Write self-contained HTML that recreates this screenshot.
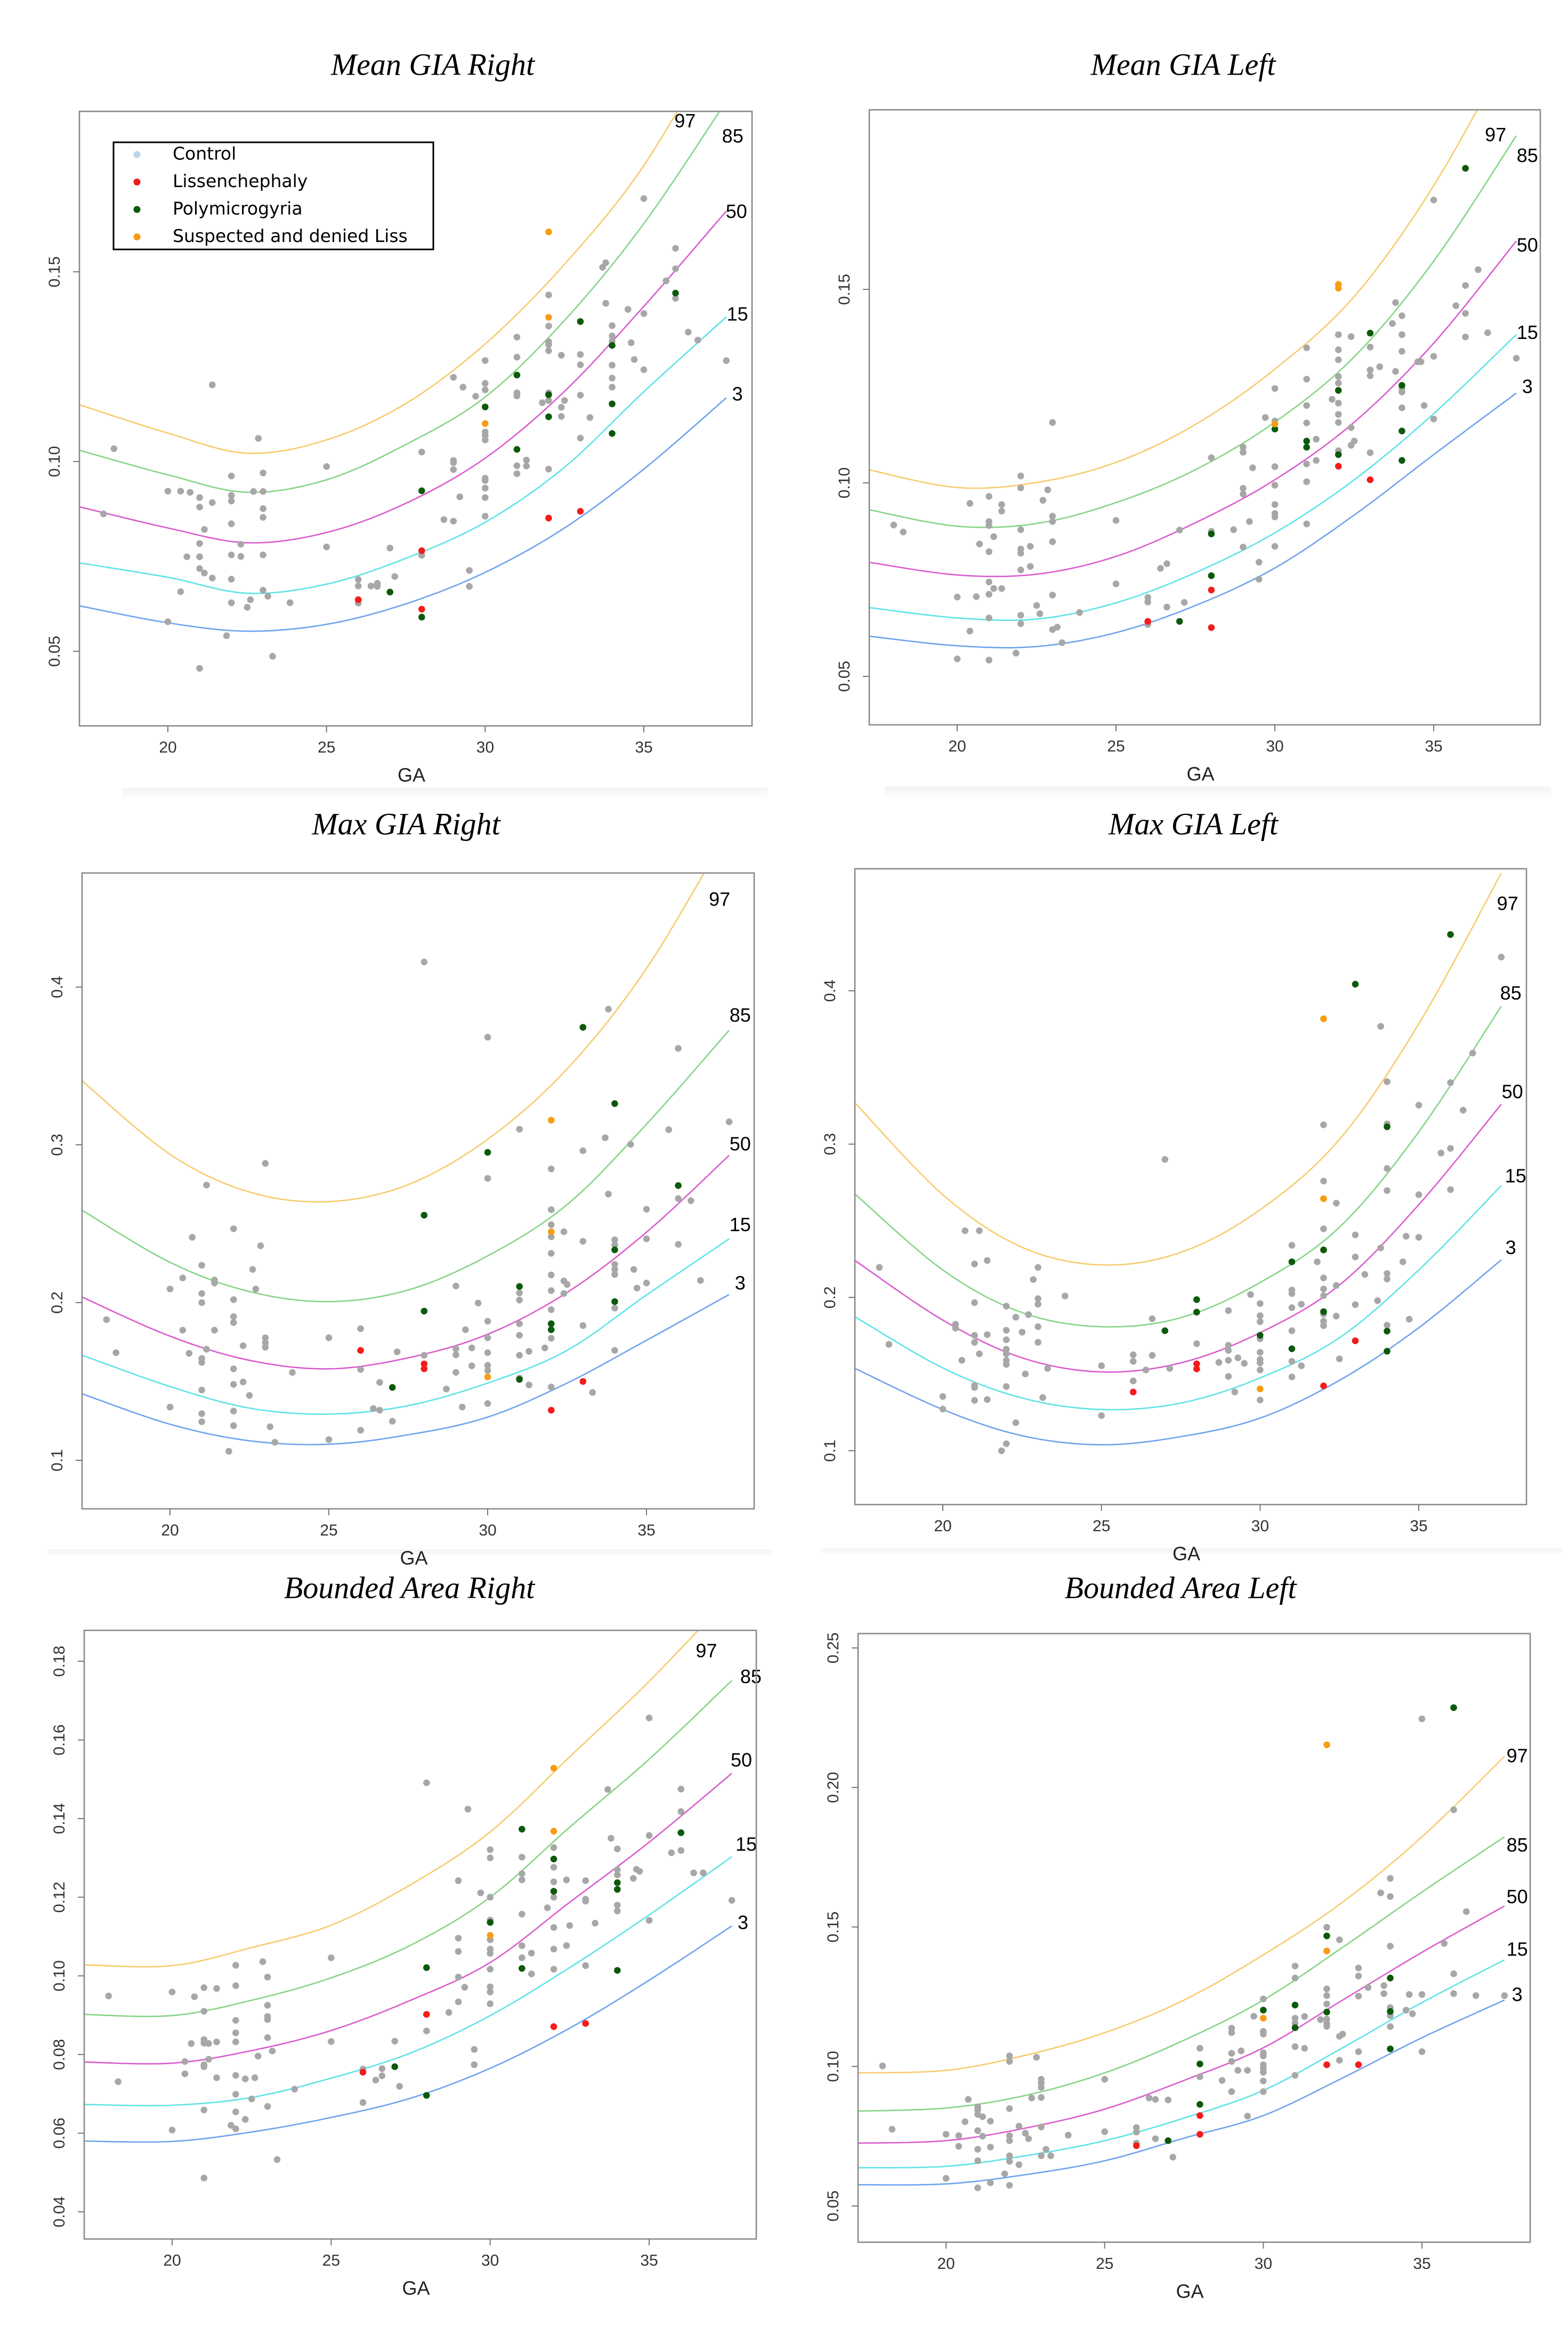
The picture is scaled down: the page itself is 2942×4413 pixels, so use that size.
<!DOCTYPE html>
<html><head><meta charset="utf-8"><title>GIA percentile charts</title>
<style>
html,body{margin:0;padding:0;background:#fff;}
svg{display:block;}
text{font-family:"Liberation Sans",sans-serif;}
.title{font-family:"Liberation Serif",serif;font-style:italic;font-size:58px;fill:#000;}
.tick{font-size:30px;fill:#333;}
.axlab{font-size:36px;fill:#222;}
.plab{font-size:36px;fill:#000;}
.leg{font-family:"DejaVu Sans","Liberation Sans",sans-serif;font-size:33px;fill:#000;}
</style></head>
<body>
<svg id="chart" xmlns="http://www.w3.org/2000/svg" width="2942" height="4413" viewBox="0 0 2942 4413">
<defs>
<linearGradient id="fade" x1="0" y1="0" x2="0" y2="1"><stop offset="0" stop-color="#f3f3f3"/><stop offset="1" stop-color="#ffffff"/></linearGradient>
</defs>
<rect x="0" y="0" width="2942" height="4413" fill="#fff"/>
<rect x="230" y="1478" width="1210" height="22" fill="url(#fade)"/>
<rect x="1660" y="1476" width="1250" height="22" fill="url(#fade)"/>
<rect x="90" y="2907" width="1360" height="14" fill="url(#fade)"/>
<rect x="1540" y="2905" width="1390" height="14" fill="url(#fade)"/>
<g id="legend">
</g>
</svg>
<script>
// ---------- shared ----------
const curveGA = [17.2, 20, 22.5, 25, 27.5, 30, 32.5, 35, 37.6];
const percentiles = ["3", "15", "50", "85", "97"];

// ---------- Panel 1: Mean GIA Right ----------
const p1Curve3  = [0.062, 0.0575, 0.0553, 0.0571, 0.0625, 0.0708, 0.0825, 0.098, 0.1168];
const p1Curve15 = [0.0733, 0.0695, 0.0653, 0.0677, 0.0745, 0.084, 0.0985, 0.1184, 0.1381];
const p1Curve50 = [0.0881, 0.0825, 0.0786, 0.0813, 0.089, 0.1009, 0.1185, 0.1409, 0.166];
const p1Curve85 = [0.103, 0.0965, 0.0919, 0.0952, 0.1045, 0.117, 0.1372, 0.1627, 0.195];
const p1Curve97 = [0.115, 0.1075, 0.1022, 0.1057, 0.1153, 0.131, 0.152, 0.178, 0.215];
const p1LabelPos = [[37.95,0.1174],[37.95,0.1385],[37.92,0.1655],[37.8,0.1854],[36.3,0.1894]];
const p1Gray = [[17.97,0.0862],[18.3,0.1034],[20,0.0922],[20,0.0578],[20.4,0.0922],[20.4,0.0657],[20.7,0.0919],[20.6,0.0749],
[21,0.0905],[21,0.088],[21,0.0784],[21,0.0749],[21,0.0718],[21,0.0455],[21.15,0.0821],[21.15,0.0706],[21.4,0.1202],[21.4,0.0892],[21.4,0.0693],
[22,0.0962],[22,0.0911],[22,0.0896],[22,0.0836],[22,0.0754],[22,0.069],[22,0.0628],[21.85,0.0541],[22.3,0.0782],[22.3,0.075],[22.5,0.0616],[22.6,0.0636],[22.7,0.0921],[22.85,0.1061],
[23,0.097],[23,0.0921],[23,0.0876],[23,0.0853],[23,0.0754],[23,0.0661],[23.15,0.0645],[23.3,0.0487],[23.85,0.0628],[25,0.0987],[25,0.0775],
[26,0.0689],[26,0.0672],[26,0.0627],[26.4,0.0672],[26.6,0.0679],[26.6,0.0671],[27,0.0772],[27.15,0.0697],[28,0.1025],[28,0.0753],[28.7,0.0847],
[29,0.1222],[29,0.1003],[29,0.0997],[29,0.0979],[29,0.0843],[29.2,0.0907],[29.3,0.1196],[29.7,0.1172],[29.5,0.0713],[29.5,0.0671],
[30,0.1266],[30,0.1206],[30,0.1189],[30,0.1078],[30,0.1069],[30,0.1057],[30,0.0956],[30,0.095],[30,0.093],[30,0.0905],[30,0.0856],
[31,0.1328],[31,0.1275],[31,0.1181],[31,0.1173],[31,0.0989],[31,0.0968],[31.3,0.1004],[31.3,0.0988],[31.8,0.1155],
[32,0.1439],[32,0.1357],[32,0.1316],[32,0.1308],[32,0.1292],[32,0.1181],[32,0.1161],[32,0.098],[32.4,0.128],[32.4,0.1143],[32.4,0.1119],[32.5,0.1161],
[33,0.1282],[33,0.1255],[33,0.1175],[33,0.1062],[33.3,0.1116],[33.7,0.1512],[33.8,0.1524],[33.8,0.1417],
[34,0.1358],[34,0.1331],[34,0.1317],[34,0.1254],[34,0.122],[34,0.1196],[34.5,0.1401],[34.6,0.1313],[34.7,0.1269],
[35,0.1693],[35,0.139],[35,0.1242],[35.7,0.1476],[36,0.1562],[36,0.1508],[36,0.143],[36.4,0.1341],[36.7,0.132],[37.6,0.1266]];
const p1Red = [[26,0.0636],[28,0.0765],[28,0.0611],[32,0.0851],[33,0.0869]];
const p1Green = [[28,0.0923],[27,0.0656],[28,0.059],[30,0.1144],[31,0.1228],[31,0.1032],[32,0.1176],[32,0.1118],[33,0.1369],[34,0.1306],[34,0.1152],[34,0.1074],[36,0.1444]];
const p1Orange = [[32,0.1605],[32,0.138],[30,0.11]];
const p1YTicks = [0.05, 0.10, 0.15];
const p1YLabels = ["0.05", "0.10", "0.15"];

// ---------- Panel 2: Mean GIA Left ----------
const p2Curve3  = [0.0604, 0.0579, 0.0577, 0.0613, 0.0683, 0.078, 0.0917, 0.1073, 0.1232];
const p2Curve15 = [0.0678, 0.0651, 0.0648, 0.069, 0.0768, 0.0871, 0.1008, 0.1179, 0.1383];
const p2Curve50 = [0.0795, 0.0762, 0.0764, 0.081, 0.0897, 0.1008, 0.1157, 0.1361, 0.1625];
const p2Curve85 = [0.0931, 0.0888, 0.0895, 0.0949, 0.1034, 0.1157, 0.1326, 0.1573, 0.1897];
const p2Curve97 = [0.1034, 0.0988, 0.1001, 0.1053, 0.1151, 0.1294, 0.1482, 0.1768, 0.215];
const p2LabelPos = [[37.95,0.1245],[37.95,0.1385],[37.95,0.1611],[37.95,0.1842],[36.95,0.1896]];
const p2Gray = [[18,0.0891],[18.3,0.0873],[20,0.0705],[20,0.0545],[20.4,0.0947],[20.4,0.0617],[20.6,0.0706],[20.7,0.0842],
[21,0.0965],[21,0.09],[21,0.089],[21,0.0822],[21,0.0744],[21,0.0712],[21,0.0651],[21,0.0542],[21.15,0.0861],[21.15,0.0727],[21.4,0.0944],[21.4,0.0927],[21.4,0.0727],
[22,0.1018],[22,0.0987],[22,0.0879],[22,0.0829],[22,0.0818],[22,0.0775],[22,0.0658],[22,0.0636],[21.85,0.056],[22.3,0.0836],[22.3,0.0784],[22.5,0.0683],[22.6,0.0662],[22.7,0.0955],[22.85,0.0982],
[23,0.1156],[23,0.0914],[23,0.09],[23,0.0848],[23,0.071],[23,0.0621],[23.15,0.0627],[23.3,0.0587],[23.85,0.0665],[25,0.0903],[25,0.0739],
[26,0.0704],[26,0.0692],[26,0.0634],[26.4,0.0779],[26.6,0.0791],[26.6,0.0679],[27,0.0878],[27.15,0.0691],[28,0.1065],[28,0.0875],[28.7,0.0879],
[29,0.1092],[29,0.1079],[29,0.0986],[29,0.0971],[29,0.0834],[29.2,0.09],[29.3,0.1039],[29.5,0.0795],[29.5,0.0751],[29.7,0.1169],
[30,0.1244],[30,0.116],[30,0.1042],[30,0.0994],[30,0.0944],[30,0.0921],[30,0.0912],[30,0.0836],
[31,0.1349],[31,0.1268],[31,0.12],[31,0.1155],[31,0.1049],[31,0.1003],[31,0.0894],[31.3,0.1113],[31.3,0.1058],[31.8,0.1216],
[32,0.1383],[32,0.1344],[32,0.1318],[32,0.1275],[32,0.1258],[32,0.1206],[32,0.1177],[32,0.1156],[32,0.1083],[32.4,0.1378],[32.4,0.1143],[32.4,0.1097],[32.5,0.1108],
[33,0.1351],[33,0.1292],[33,0.1277],[33,0.1078],[33.3,0.13],[33.7,0.1412],[33.8,0.1466],[33.8,0.1288],
[34,0.1432],[34,0.1383],[34,0.134],[34,0.1243],[34,0.1235],[34,0.1194],[34.5,0.1313],[34.6,0.1313],[34.7,0.12],
[35,0.1731],[35,0.1327],[35,0.1165],[35.7,0.1458],[36,0.151],[36,0.1438],[36,0.1377],[36.4,0.1551],[36.7,0.1388],[37.6,0.1322]];
const p2Red = [[26,0.0642],[28,0.0723],[28,0.0626],[32,0.1043],[33,0.1008]];
const p2Green = [[27,0.0642],[28,0.0868],[28,0.076],[30,0.1139],[31,0.1108],[31,0.1092],[32,0.1239],[32,0.1073],[33,0.1387],[34,0.1252],[34,0.1134],[34,0.1058],[36,0.1813]];
const p2Orange = [[32,0.1513],[32,0.1503],[30,0.1152]];
const p2YTicks = [0.05, 0.10, 0.15];
const p2YLabels = ["0.05", "0.10", "0.15"];

// ---------- Panel 3: Max GIA Right ----------
const p3Curve3  = [0.1424, 0.1229, 0.1124, 0.1102, 0.1162, 0.1274, 0.149, 0.1761, 0.2051];
const p3Curve15 = [0.1669, 0.1468, 0.1331, 0.1293, 0.1347, 0.149, 0.1697, 0.2048, 0.2404];
const p3Curve50 = [0.2038, 0.1787, 0.1634, 0.158, 0.165, 0.1799, 0.2064, 0.2446, 0.2933];
const p3Curve85 = [0.2589, 0.2255, 0.207, 0.2006, 0.208, 0.2296, 0.2621, 0.3131, 0.3726];
const p3Curve97 = [0.3411, 0.294, 0.2701, 0.264, 0.2748, 0.3035, 0.3481, 0.4118, 0.50];
const p3LabelPos = [[37.95,0.2115],[37.95,0.2485],[37.95,0.2997],[37.95,0.3813],[37.3,0.4548]];
const p3Gray = [[18,0.1892],[18.3,0.1682],[20,0.2086],[20,0.1338],[20.4,0.2156],[20.4,0.1825],[20.6,0.1678],[20.7,0.2414],
[21,0.2236],[21,0.2057],[21,0.2],[21,0.1646],[21,0.1621],[21,0.1446],[21,0.1296],[21,0.1245],[21.15,0.2745],[21.15,0.1704],[21.4,0.2143],[21.4,0.2124],[21.4,0.1825],
[22,0.2468],[22,0.2019],[22,0.1911],[22,0.1873],[22,0.158],[22,0.1481],[22,0.1312],[22,0.122],[21.85,0.1057],[22.3,0.1726],[22.3,0.1497],[22.5,0.1411],[22.6,0.221],[22.7,0.2086],[22.85,0.236],
[23,0.2882],[23,0.1777],[23,0.1745],[23,0.1717],[23.15,0.1213],[23.3,0.1115],[23.85,0.1557],[25,0.1777],[25,0.1131],
[26,0.1834],[26,0.1576],[26,0.1191],[26.4,0.1328],[26.6,0.1494],[26.6,0.1318],[27,0.1248],[27.15,0.1688],[28,0.4159],[28,0.1666],[28.7,0.1452],
[29,0.2105],[29,0.1707],[29,0.1669],[29,0.1557],[29.2,0.1338],[29.3,0.1828],[29.5,0.1713],[29.5,0.1599],[29.7,0.1997],
[30,0.3682],[30,0.2787],[30,0.1882],[30,0.1777],[30,0.1682],[30,0.1602],[30,0.157],[30,0.136],
[31,0.3099],[31,0.2061],[31,0.2016],[31,0.1866],[31,0.1793],[31,0.1666],[31,0.1522],[31.3,0.1691],[31.3,0.1478],[31.8,0.1713],
[32,0.2847],[32,0.2589],[32,0.2494],[32,0.2417],[32,0.2312],[32,0.2175],[32,0.2076],[32,0.1955],[32,0.1774],[32,0.1465],[32.4,0.2449],[32.4,0.2137],[32.4,0.2057],[32.5,0.2115],
[33,0.2962],[33,0.2389],[33,0.1854],[33.3,0.143],[33.7,0.3045],[33.8,0.386],[33.8,0.2688],
[34,0.2398],[34,0.2366],[34,0.2242],[34,0.221],[34,0.2178],[34,0.1965],[34,0.1697],[34.5,0.3003],[34.6,0.221],[34.7,0.2092],
[35,0.2592],[35,0.2404],[35,0.2124],[35.7,0.3096],[36,0.3611],[36,0.2659],[36,0.2369],[36.4,0.2646],[36.7,0.214],[37.6,0.3146]];
const p3Red = [[26,0.1697],[28,0.1611],[28,0.158],[32,0.1318],[33,0.15]];
const p3Green = [[28,0.2554],[28,0.1946],[27,0.1462],[30,0.2952],[31,0.2102],[31,0.1513],[32,0.1866],[32,0.1828],[33,0.3745],[34,0.3261],[34,0.2334],[34,0.2006],[36,0.2742]];
const p3Orange = [[32,0.3156],[32,0.2449],[30,0.1529]];
const p3YTicks = [0.1, 0.2, 0.3, 0.4];
const p3YLabels = ["0.1", "0.2", "0.3", "0.4"];

// ---------- Panel 4: Max GIA Left ----------
const p4Curve3  = [0.154, 0.1269, 0.1098, 0.1039, 0.1092, 0.1213, 0.1459, 0.1802, 0.2245];
const p4Curve15 = [0.1878, 0.154, 0.1344, 0.1269, 0.1311, 0.1475, 0.1737, 0.2179, 0.2729];
const p4Curve50 = [0.2245, 0.1852, 0.1606, 0.1514, 0.1573, 0.177, 0.2081, 0.2605, 0.326];
const p4Curve85 = [0.268, 0.2179, 0.1901, 0.1809, 0.1868, 0.2097, 0.2458, 0.308, 0.3899];
const p4Curve97 = [0.3276, 0.267, 0.2327, 0.2212, 0.2294, 0.2572, 0.3031, 0.3784, 0.4767];
const p4LabelPos = [[37.9,0.2315],[38.05,0.2784],[37.95,0.3332],[37.9,0.3976],[37.8,0.4559]];
const p4Gray = [[18,0.2196],[18.3,0.1694],[20,0.1354],[20,0.1272],[20.4,0.1825],[20.4,0.18],[20.6,0.159],[20.7,0.2435],
[21,0.2218],[21,0.1966],[21,0.1753],[21,0.1707],[21,0.1426],[21,0.1413],[21,0.1328],[21.15,0.2435],[21.15,0.1632],[21.4,0.2241],[21.4,0.1757],[21.4,0.1334],
[22,0.1943],[22,0.1786],[22,0.1724],[22,0.1662],[22,0.1632],[22,0.159],[22,0.1563],[22,0.1419],[22,0.1046],[21.85,0.1],[22.3,0.1871],[22.3,0.1183],[22.5,0.1773],[22.6,0.1501],[22.7,0.1888],[22.85,0.2117],
[23,0.2196],[23,0.1992],[23,0.1956],[23,0.1809],[23,0.1707],[23.15,0.1347],[23.3,0.1537],[23.85,0.2009],[25,0.1554],[25,0.1229],
[26,0.1626],[26,0.1583],[26,0.1455],[26.4,0.1527],[26.6,0.1861],[26.6,0.1622],[27,0.29],[27.15,0.1537],[28,0.1698],[28.7,0.1576],
[29,0.1914],[29,0.1688],[29,0.1655],[29,0.159],[29,0.1485],[29.2,0.1383],[29.3,0.1606],[29.5,0.157],[29.7,0.2019],
[30,0.196],[30,0.1881],[30,0.1842],[30,0.173],[30,0.1642],[30,0.1596],[30,0.1573],[30,0.1527],[30,0.1331],
[31,0.234],[31,0.2048],[31,0.2025],[31,0.1933],[31,0.1783],[31,0.1583],[31,0.1481],[31.3,0.1956],[31.3,0.1554],[31.8,0.2232],
[32,0.3126],[32,0.2759],[32,0.2448],[32,0.2127],[32,0.2055],[32,0.2012],[32,0.1891],[32,0.1845],[32,0.1816],[32.4,0.2615],[32.4,0.2078],[32.4,0.1878],[32.5,0.1599],
[33,0.2408],[33,0.2264],[33,0.1953],[33.3,0.215],[33.7,0.1979],[33.8,0.3768],[33.8,0.2323],
[34,0.3407],[34,0.3132],[34,0.2841],[34,0.2697],[34,0.2156],[34,0.212],[34,0.1819],[34.5,0.2232],[34.6,0.2399],[34.7,0.1858],
[35,0.3254],[35,0.267],[35,0.2392],[35.7,0.2942],[36,0.3401],[36,0.2972],[36,0.2703],[36.4,0.3221],[36.7,0.3594],[37.6,0.422]];
const p4Red = [[26,0.1383],[28,0.1567],[28,0.1534],[32,0.1423],[33,0.1717]];
const p4Green = [[27,0.1783],[28,0.1986],[28,0.1904],[30,0.1753],[31,0.2232],[31,0.1665],[32,0.231],[32,0.1907],[33,0.4043],[34,0.3113],[34,0.178],[34,0.1649],[36,0.4367]];
const p4Orange = [[32,0.3817],[32,0.2644],[30,0.1403]];
const p4YTicks = [0.1, 0.2, 0.3, 0.4];
const p4YLabels = ["0.1", "0.2", "0.3", "0.4"];

// ---------- Panel 5: Bounded Area Right ----------
const p5Curve3  = [0.058, 0.0579, 0.0603, 0.064, 0.0689, 0.0765, 0.0867, 0.0989, 0.1127];
const p5Curve15 = [0.0673, 0.0671, 0.0691, 0.074, 0.0804, 0.0899, 0.1021, 0.1155, 0.1303];
const p5Curve50 = [0.0781, 0.0778, 0.081, 0.0861, 0.0938, 0.1034, 0.1187, 0.134, 0.1515];
const p5Curve85 = [0.0902, 0.0899, 0.0938, 0.0995, 0.1078, 0.12, 0.1378, 0.1551, 0.1751];
const p5Curve97 = [0.1028, 0.1026, 0.1072, 0.1129, 0.1232, 0.1366, 0.1557, 0.1749, 0.197];
const p5LabelPos = [[37.95,0.1132],[38.05,0.1331],[37.9,0.1545],[38.2,0.1757],[36.8,0.1823]];
const p5Gray = [[18,0.0949],[18.3,0.0731],[20,0.0959],[20,0.0608],[20.4,0.0782],[20.4,0.0751],[20.6,0.0828],[20.7,0.0947],
[21,0.097],[21,0.091],[21,0.0838],[21,0.0829],[21,0.0774],[21,0.0769],[21,0.0659],[21,0.0486],[21.15,0.0828],[21.15,0.0788],[21.4,0.0968],[21.4,0.0832],[21.4,0.0741],
[22,0.1027],[22,0.0975],[22,0.0887],[22,0.0855],[22,0.0832],[22,0.0747],[22,0.0699],[22,0.0654],[22,0.0611],[21.85,0.062],[22.3,0.0738],[22.3,0.0635],[22.5,0.0687],[22.6,0.0741],[22.7,0.0796],[22.85,0.1036],
[23,0.0997],[23,0.0925],[23,0.0897],[23,0.0889],[23,0.0843],[23,0.0668],[23.15,0.0809],[23.3,0.0533],[23.85,0.0712],[25,0.1046],[25,0.0833],
[26,0.0763],[26,0.0678],[26.4,0.0735],[26.6,0.0764],[26.6,0.0746],[27,0.0834],[27.15,0.0719],[28,0.1491],[28,0.086],[28.7,0.0907],
[29,0.1242],[29,0.1096],[29,0.1062],[29,0.0997],[29,0.0934],[29.2,0.0971],[29.3,0.1424],[29.5,0.0813],[29.5,0.0774],[29.7,0.1211],
[30,0.1321],[30,0.13],[30,0.12],[30,0.1142],[30,0.1092],[30,0.1068],[30,0.1057],[30,0.1017],[30,0.0972],[30,0.0959],[30,0.0929],
[31,0.1302],[31,0.126],[31,0.1244],[31,0.1157],[31,0.1077],[31,0.1046],[31.3,0.1058],[31.3,0.1005],[31.8,0.1173],
[32,0.1326],[32,0.1276],[32,0.1239],[32,0.12],[32,0.1123],[32,0.1068],[32,0.1017],[32.4,0.1244],[32.4,0.1077],[32.5,0.1128],
[33,0.1242],[33,0.1195],[33,0.119],[33,0.1026],[33.3,0.1134],[33.7,0.1474],[33.8,0.135],
[34,0.1323],[34,0.127],[34,0.1257],[34,0.118],[34,0.1165],[34.5,0.1248],[34.6,0.1271],[34.7,0.1266],
[35,0.1656],[35,0.1357],[35,0.1141],[35.7,0.1313],[36,0.1475],[36,0.1418],[36,0.1319],[36.4,0.1262],[36.7,0.1262],[37.6,0.1192]];
const p5Red = [[26,0.0755],[28,0.0902],[32,0.0871],[33,0.0879]];
const p5Green = [[27,0.0769],[28,0.1021],[28,0.0696],[30,0.1136],[31,0.1373],[31,0.1019],[32,0.1297],[32,0.1215],[34,0.1237],[34,0.122],[34,0.1014],[36,0.1364]];
const p5Orange = [[32,0.1528],[32,0.1368],[30,0.1103]];
const p5YTicks = [0.04, 0.06, 0.08, 0.10, 0.12, 0.14, 0.16, 0.18];
const p5YLabels = ["0.04", "0.06", "0.08", "0.10", "0.12", "0.14", "0.16", "0.18"];

// ---------- Panel 6: Bounded Area Left ----------
const p6Curve3  = [0.0576, 0.0579, 0.0612, 0.0662, 0.0743, 0.0824, 0.0959, 0.1103, 0.1238];
const p6Curve15 = [0.0637, 0.0642, 0.068, 0.0734, 0.0815, 0.0914, 0.1067, 0.1229, 0.1382];
const p6Curve50 = [0.0725, 0.0734, 0.0779, 0.0847, 0.095, 0.1067, 0.1238, 0.1409, 0.1575];
const p6Curve85 = [0.084, 0.0851, 0.0896, 0.0977, 0.1094, 0.1238, 0.1427, 0.1625, 0.1823];
const p6Curve97 = [0.0977, 0.0986, 0.104, 0.1121, 0.1238, 0.14, 0.1589, 0.1823, 0.2111];
const p6LabelPos = [[38.0,0.1253],[38.0,0.1415],[38.0,0.1603],[38.0,0.1788],[38.0,0.2108]];
const p6Gray = [[18,0.1002],[18.3,0.0775],[20,0.0757],[20,0.0599],[20.4,0.0752],[20.4,0.0714],[20.6,0.0802],[20.7,0.0882],
[21,0.0855],[21,0.0844],[21,0.0828],[21,0.077],[21,0.0703],[21,0.0662],[21,0.0565],[21.15,0.082],[21.15,0.075],[21.4,0.0804],[21.4,0.0711],[21.4,0.0583],
[22,0.1038],[22,0.1018],[22,0.0849],[22,0.0752],[22,0.0734],[22,0.068],[22,0.066],[22,0.0574],[21.85,0.0615],[22.3,0.0786],[22.3,0.0648],[22.5,0.0761],[22.6,0.0741],[22.7,0.0887],[22.85,0.1033],
[23,0.0954],[23,0.0941],[23,0.0925],[23,0.0889],[23,0.0783],[23,0.068],[23.15,0.0703],[23.3,0.068],[23.85,0.0754],[25,0.0954],[25,0.0766],
[26,0.0781],[26,0.0765],[26,0.0725],[26.4,0.0887],[26.6,0.0882],[26.6,0.0741],[27,0.088],[27.15,0.0675],[28,0.1065],[28,0.0963],[28.7,0.095],
[29,0.1137],[29,0.1121],[29,0.1047],[29,0.1018],[29,0.091],[29.2,0.0986],[29.3,0.1056],[29.5,0.0986],[29.5,0.0822],[29.7,0.118],
[30,0.1242],[30,0.1126],[30,0.1116],[30,0.1049],[30,0.1038],[30,0.1006],[30,0.0993],[30,0.0979],[30,0.0948],[30,0.091],
[31,0.136],[31,0.1317],[31,0.1173],[31,0.1155],[31,0.1071],[31,0.0968],[31.3,0.1179],[31.3,0.1065],[31.8,0.1168],
[32,0.1499],[32,0.1278],[32,0.1254],[32,0.1224],[32,0.117],[32,0.1155],[32,0.1144],[32.4,0.1454],[32.4,0.1108],[32.5,0.1116],[32.4,0.1022],
[33,0.1353],[33,0.1324],[33,0.1252],[33,0.1053],[33.3,0.1283],[33.7,0.1622],[33.8,0.129],[33.8,0.1261],
[34,0.1674],[34,0.1609],[34,0.1431],[34,0.1211],[34,0.1182],[34,0.1143],[34.5,0.1202],[34.6,0.1258],[34.7,0.1189],
[35,0.2246],[35,0.1258],[35,0.1053],[35.7,0.1441],[36,0.192],[36,0.1332],[36,0.1261],[36.4,0.1555],[36.7,0.1254],[37.6,0.1254]];
const p6Red = [[26,0.0716],[28,0.0824],[28,0.0757],[32,0.1006],[33,0.1006]];
const p6Green = [[27,0.0734],[28,0.1009],[28,0.0864],[30,0.1202],[31,0.122],[31,0.1139],[32,0.1468],[32,0.1195],[34,0.1317],[34,0.1197],[34,0.1063],[36,0.2286]];
const p6Orange = [[32,0.2153],[32,0.1414],[30,0.1173]];
const p6YTicks = [0.05, 0.10, 0.15, 0.20, 0.25];
const p6YLabels = ["0.05", "0.10", "0.15", "0.20", "0.25"];

const xTicks = [20, 25, 30, 35];
const xTickLabels = ["20", "25", "30", "35"];

// legend
const legendLabels = ["Control", "Lissenchephaly", "Polymicrogyria", "Suspected and denied Liss"];
const legendColors = ["#bcd4ea", "#ee1c1c", "#0b5a0b", "#f49a12"];

// ---------- rendering ----------
const NS = "http://www.w3.org/2000/svg";
const svg = document.getElementById("chart");
const curveColors = {"3":"#6ea3ec","15":"#5fe3e6","50":"#da5ccd","85":"#86d486","97":"#f7cb6e"};
const pointColors = {gray:"#a7a7a7", red:"#f41b1b", green:"#0b5a0b", orange:"#f79c14"};

function mk(tag, attrs, parent){
  const e = document.createElementNS(NS, tag);
  for (const k in attrs) e.setAttribute(k, attrs[k]);
  (parent||svg).appendChild(e);
  return e;
}

const panels = [
 {id:"mean-gia-right", title:"Mean GIA Right", tx:812, ty:127, box:[149,1411,209,1362], x0:[20,315], x1:[35,1208], y0:[0.10,866], y1:[0.15,510],
  curves:[p1Curve3,p1Curve15,p1Curve50,p1Curve85,p1Curve97], labels:p1LabelPos, gray:p1Gray, red:p1Red, green:p1Green, orange:p1Orange, yt:p1YTicks, yl:p1YLabels},
 {id:"mean-gia-left", title:"Mean GIA Left", tx:2220, ty:127, box:[1631,2890,206,1360], x0:[20,1796], x1:[35,2690], y0:[0.10,906], y1:[0.15,543],
  curves:[p2Curve3,p2Curve15,p2Curve50,p2Curve85,p2Curve97], labels:p2LabelPos, gray:p2Gray, red:p2Red, green:p2Green, orange:p2Orange, yt:p2YTicks, yl:p2YLabels},
 {id:"max-gia-right", title:"Max GIA Right", tx:762, ty:1552, box:[154,1415,1638,2831], x0:[20,319], x1:[35,1213], y0:[0.1,2740], y1:[0.4,1852],
  curves:[p3Curve3,p3Curve15,p3Curve50,p3Curve85,p3Curve97], labels:p3LabelPos, gray:p3Gray, red:p3Red, green:p3Green, orange:p3Orange, yt:p3YTicks, yl:p3YLabels},
 {id:"max-gia-left", title:"Max GIA Left", tx:2239, ty:1552, box:[1604,2864,1630,2823], x0:[20,1769], x1:[35,2662], y0:[0.1,2722], y1:[0.4,1859],
  curves:[p4Curve3,p4Curve15,p4Curve50,p4Curve85,p4Curve97], labels:p4LabelPos, gray:p4Gray, red:p4Red, green:p4Green, orange:p4Orange, yt:p4YTicks, yl:p4YLabels},
 {id:"bounded-area-right", title:"Bounded Area Right", tx:768, ty:2985, box:[158,1419,3059,4201], x0:[20,323], x1:[35,1218], y0:[0.04,4150], y1:[0.18,3117],
  curves:[p5Curve3,p5Curve15,p5Curve50,p5Curve85,p5Curve97], labels:p5LabelPos, gray:p5Gray, red:p5Red, green:p5Green, orange:p5Orange, yt:p5YTicks, yl:p5YLabels},
 {id:"bounded-area-left", title:"Bounded Area Left", tx:2215, ty:2985, box:[1610,2871,3065,4207], x0:[20,1775], x1:[35,2668], y0:[0.05,4139], y1:[0.25,3092],
  curves:[p6Curve3,p6Curve15,p6Curve50,p6Curve85,p6Curve97], labels:p6LabelPos, gray:p6Gray, red:p6Red, green:p6Green, orange:p6Orange, yt:p6YTicks, yl:p6YLabels}
];

function catmull(xs, ys, n){
  const out = [];
  for (let i=0;i<xs.length-1;i++){
    const i0=Math.max(0,i-1), i3=Math.min(xs.length-1,i+2);
    for (let s=0;s<n;s++){
      const t=s/n, t2=t*t, t3=t2*t;
      const f=(p0,p1,p2,p3)=>0.5*((2*p1)+(-p0+p2)*t+(2*p0-5*p1+4*p2-p3)*t2+(-p0+3*p1-3*p2+p3)*t3);
      out.push([f(xs[i0],xs[i],xs[i+1],xs[i3]), f(ys[i0],ys[i],ys[i+1],ys[i3])]);
    }
  }
  out.push([xs[xs.length-1], ys[ys.length-1]]);
  return out;
}

panels.forEach((p, pi) => {
  const sx = v => p.x0[1] + (v - p.x0[0]) * (p.x1[1]-p.x0[1])/(p.x1[0]-p.x0[0]);
  const sy = v => p.y0[1] + (v - p.y0[0]) * (p.y1[1]-p.y0[1])/(p.y1[0]-p.y0[0]);
  const [L,R,T,B] = p.box;
  const g = mk("g", {});
  
  
  const clip = mk("clipPath", {id:"clip"+pi}, g);
  mk("rect", {x:L, y:T, width:R-L, height:B-T}, clip);

  const title = mk("text", {x:p.tx, y:p.ty, class:"title", "text-anchor":"middle", "dominant-baseline":"middle"}, g);
  title.textContent = p.title;
  
  

  // curves
  const cg = mk("g", {"clip-path":"url(#clip"+pi+")"}, g);
  
  
  p.curves.forEach((vals, ci) => {
    const pts = catmull(curveGA.map(sx), vals.map(sy), 12);
    const d = pts.map((q,k)=>(k?"L":"M")+q[0].toFixed(1)+","+q[1].toFixed(1)).join("");
    const path = mk("path", {d:d, fill:"none", stroke:curveColors[percentiles[ci]], "stroke-width":2.6}, cg);
    
    
  });

  // points
  const ptsG = mk("g", {"clip-path":"url(#clip"+pi+")"}, g);
  
  
  [["gray",p.gray],["red",p.red],["green",p.green],["orange",p.orange]].forEach(([grp, arr]) => {
    arr.forEach(d => {
      const c = mk("circle", {cx:sx(d[0]).toFixed(1), cy:sy(d[1]).toFixed(1), r:6.3, fill:pointColors[grp]}, ptsG);
      
      
    });
  });

  // curve labels
  p.labels.forEach((lp, ci) => {
    const t = mk("text", {x:sx(lp[0]).toFixed(1), y:sy(lp[1]).toFixed(1), class:"plab", "text-anchor":"middle", "dominant-baseline":"middle"}, g);
    t.textContent = percentiles[ci];
    
    
  });

  // frame
  const fr = mk("rect", {x:L, y:T, width:R-L, height:B-T, fill:"none", stroke:"#8a8a8a", "stroke-width":2.6}, g);
  
  

  // x axis ticks
  xTicks.forEach((v, k) => {
    const x = sx(v);
    const tk = mk("line", {x1:x, x2:x, y1:B, y2:B+12, stroke:"#777", "stroke-width":2}, g);
    
    
    const tl = mk("text", {x:x, y:B+42, class:"tick", "text-anchor":"middle", "dominant-baseline":"middle"}, g);
    tl.textContent = xTickLabels[k];
    
    
  });
  const xl = mk("text", {x:(L+R)/2 - 8, y:B+95, class:"axlab", "text-anchor":"middle", "dominant-baseline":"middle"}, g);
  xl.textContent = "GA";
  
  

  // y axis ticks
  p.yt.forEach((v, k) => {
    const y = sy(v);
    const tk = mk("line", {x1:L-12, x2:L, y1:y, y2:y, stroke:"#777", "stroke-width":2}, g);
    
    
    const tx = L - 45;
    const tl = mk("text", {x:tx, y:y, class:"tick", "text-anchor":"middle", "dominant-baseline":"middle", transform:"rotate(-90 "+tx+" "+y+")"}, g);
    tl.textContent = p.yl[k];
    
    
  });
});

// legend (panel 1)
const lg = document.getElementById("legend");
const lbox = mk("rect", {x:213, y:267, width:600, height:201, fill:"#fff", stroke:"#000", "stroke-width":3}, lg);


svg.appendChild(lg);
legendLabels.forEach((lab, i) => {
  const y = 290 + i*51.5;
  const c = mk("circle", {cx:257, cy:y, r:6.5, fill:legendColors[i]}, lg);
  
  
  const t = mk("text", {x:324, y:y, class:"leg", "dominant-baseline":"middle"}, lg);
  t.textContent = lab;
  
  
});
</script>
</body></html>
